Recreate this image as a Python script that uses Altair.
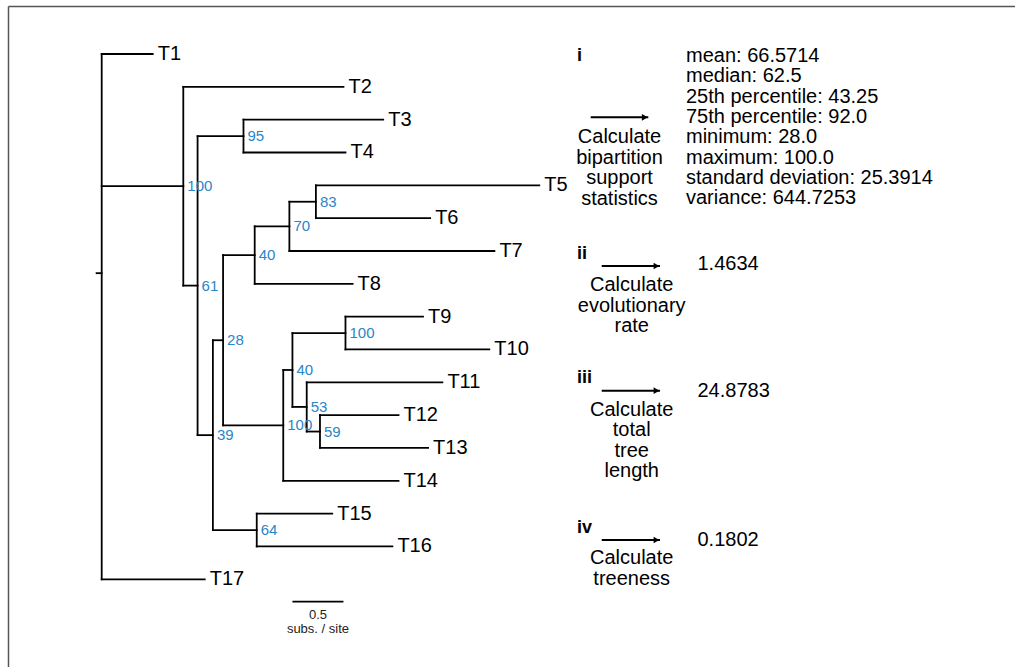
import altair as alt
import pandas as pd

# ---------------- data ----------------
# tree topology: node, its parent, and distance from the root (subs. / site)
node_names = ["root", "T1", "A", "T2", "B", "C", "T3", "T4", "D", "E", "G", "I", "J",
              "T5", "T6", "T7", "T8", "H", "K", "L", "T9", "T10", "M", "T11", "N",
              "T12", "T13", "T14", "F", "T15", "T16", "T17"]
node_parents = ["", "root", "root", "A", "A", "B", "C", "C", "B", "D", "E", "G", "I",
                "J", "J", "I", "G", "E", "H", "K", "L", "L", "K", "M", "M",
                "N", "N", "H", "D", "F", "F", "root"]
node_depths = [0.00, 0.50, 0.80, 2.37, 0.94, 1.39, 2.76, 2.39, 1.09, 1.19, 1.50, 1.84, 2.10,
               4.29, 3.22, 3.85, 2.46, 1.78, 1.87, 2.39, 3.15, 3.80, 2.01, 3.34, 2.14,
               2.91, 3.20, 2.91, 1.52, 2.26, 2.85, 1.01]
tip_order = ["T1", "T2", "T3", "T4", "T5", "T6", "T7", "T8", "T9", "T10",
             "T11", "T12", "T13", "T14", "T15", "T16", "T17"]

# bipartition support values at internal nodes
support_nodes = ["A", "B", "C", "D", "E", "G", "I", "J", "H", "K", "L", "M", "N", "F"]
support_values = [100, 61, 95, 39, 28, 40, 70, 83, 100, 40, 100, 53, 59, 64]

root_stem = 0.05
scale_bar_start = 1.87
scale_bar_length = 0.5
scale_bar_labels = ["0.5", "subs. / site"]

step_numerals = ["i", "ii", "iii", "iv"]
step_lines = [["Calculate", "bipartition", "support", "statistics"],
              ["Calculate", "evolutionary", "rate"],
              ["Calculate", "total", "tree", "length"],
              ["Calculate", "treeness"]]
stat_lines = ["mean: 66.5714", "median: 62.5", "25th percentile: 43.25",
              "75th percentile: 92.0", "minimum: 28.0", "maximum: 100.0",
              "standard deviation: 25.3914", "variance: 644.7253"]
step_results = ["1.4634", "24.8783", "0.1802"]

# ---------------- layout (page pixels) ----------------
W, H = 1015, 667
VIEW_X0, VIEW_Y0 = 8, 6
X0_PX, PX_PER_UNIT = 101.7, 102.0
Y1_PX, PX_PER_TIP = 54.0, 32.83
FONT = "Liberation Sans"
BLUE = "#2a85c9"
FRAME = "#555555"


def px_x(px):
    return (px - X0_PX) / PX_PER_UNIT


def px_y(py):
    return 1 + (py - Y1_PX) / PX_PER_TIP


numeral_pos = [(577, 56), (577, 254), (577, 377.5), (577, 528)]
arrow_pos = [(590.7, 648.3, 117.3), (601.7, 660, 266), (601.7, 660, 390.7), (601.7, 660, 540)]
step_center = [(619.5, 137), (631.7, 285), (631.7, 409.5), (631.7, 558.3)]
STEP_LINE_GAP = 20.6
stats_pos = (686, 56, 20.33)
result_pos = [(697.5, 264), (697.5, 390.7), (697.5, 540)]

# ---------------- tree layout ----------------
depth = dict(zip(node_names, node_depths))
parent = dict(zip(node_names, node_parents))
children = {n: [] for n in node_names}
for n, p in zip(node_names, node_parents):
    if p:
        children[p].append(n)

ypos = {}


def place(n):
    if not children[n]:
        ypos[n] = tip_order.index(n) + 1
    else:
        vals = [place(c) for c in children[n]]
        ypos[n] = sum(vals) / len(vals)
    return ypos[n]


place("root")

segs = []
for n in node_names:
    if parent[n]:
        segs.append({"x": depth[parent[n]], "x2": depth[n], "y": ypos[n], "y2": ypos[n]})
    if children[n]:
        cy = [ypos[c] for c in children[n]]
        segs.append({"x": depth[n], "x2": depth[n], "y": min(cy), "y2": max(cy)})
segs.append({"x": -root_stem, "x2": 0.0, "y": ypos["root"], "y2": ypos["root"]})
seg_df = pd.DataFrame(segs)

tips_df = pd.DataFrame({"x": [depth[t] for t in tip_order],
                        "y": [ypos[t] for t in tip_order],
                        "label": tip_order})
sup_df = pd.DataFrame({"x": [depth[n] for n in support_nodes],
                       "y": [ypos[n] for n in support_nodes],
                       "label": [str(v) for v in support_values]})

bar_y = px_y(601.7)
bar_df = pd.DataFrame({"x": [scale_bar_start], "x2": [scale_bar_start + scale_bar_length],
                       "y": [bar_y]})
bar_txt_df = pd.DataFrame({"x": [scale_bar_start + scale_bar_length / 2] * 2,
                           "y": [bar_y] * 2, "label": scale_bar_labels})

num_df = pd.DataFrame({"x": [px_x(p[0]) for p in numeral_pos],
                       "y": [px_y(p[1]) for p in numeral_pos],
                       "label": step_numerals})
arrow_df = pd.DataFrame({"x": [px_x(a[0]) for a in arrow_pos],
                         "x2": [px_x(a[1]) for a in arrow_pos],
                         "y": [px_y(a[2]) for a in arrow_pos]})
head_df = pd.DataFrame({"x": [px_x(a[1] - 3.5) for a in arrow_pos],
                        "y": [px_y(a[2]) for a in arrow_pos]})
step_rows = []
for (cx, cy), lines in zip(step_center, step_lines):
    for k, line in enumerate(lines):
        step_rows.append({"x": px_x(cx), "y": px_y(cy + k * STEP_LINE_GAP), "label": line})
step_df = pd.DataFrame(step_rows)
res_rows = []
for k, line in enumerate(stat_lines):
    res_rows.append({"x": px_x(stats_pos[0]), "y": px_y(stats_pos[1] + k * stats_pos[2]),
                     "label": line})
for (rx, ry), val in zip(result_pos, step_results):
    res_rows.append({"x": px_x(rx), "y": px_y(ry), "label": val})
res_df = pd.DataFrame(res_rows)

# ---------------- scales ----------------
x_scale = alt.Scale(domain=[px_x(VIEW_X0), px_x(W)], nice=False, zero=False)
y_scale = alt.Scale(domain=[px_y(VIEW_Y0), px_y(H)], nice=False, zero=False, reverse=True)
x_axis = alt.Axis(orient="top", ticks=False, labels=False, grid=False, title=None,
                  domainColor=FRAME, domainWidth=1.5)
y_axis = alt.Axis(orient="left", ticks=False, labels=False, grid=False, title=None,
                  domainColor=FRAME, domainWidth=1.5)


def X(f="x"):
    return alt.X(f"{f}:Q", scale=x_scale, axis=x_axis)


def Y(f="y"):
    return alt.Y(f"{f}:Q", scale=y_scale, axis=y_axis)


tree = alt.Chart(seg_df).mark_rule(color="black", strokeWidth=1.8, strokeCap="square").encode(
    x=X(), x2="x2:Q", y=Y(), y2="y2:Q")
tips = alt.Chart(tips_df).mark_text(align="left", baseline="middle", dx=5, fontSize=20,
                                    font=FONT, color="black").encode(x=X(), y=Y(), text="label:N")
sup = alt.Chart(sup_df).mark_text(align="left", baseline="middle", dx=4, fontSize=15,
                                  font=FONT, color=BLUE).encode(x=X(), y=Y(), text="label:N")
bar = alt.Chart(bar_df).mark_rule(color="black", strokeWidth=1.8).encode(
    x=X(), x2="x2:Q", y=Y())
bar_txt0 = alt.Chart(bar_txt_df.iloc[[0]]).mark_text(
    align="center", baseline="middle", dy=13, fontSize=13, font=FONT, color="#222"
).encode(x=X(), y=Y(), text="label:N")
bar_txt1 = alt.Chart(bar_txt_df.iloc[[1]]).mark_text(
    align="center", baseline="middle", dy=27.5, fontSize=13, font=FONT, color="#222"
).encode(x=X(), y=Y(), text="label:N")

nums = alt.Chart(num_df).mark_text(align="left", baseline="middle", fontSize=18,
                                   fontWeight="bold", font=FONT, color="black").encode(
    x=X(), y=Y(), text="label:N")
arrows = alt.Chart(arrow_df).mark_rule(color="black", strokeWidth=2).encode(
    x=X(), x2="x2:Q", y=Y())
heads = alt.Chart(head_df).mark_point(shape="triangle-right", filled=True, size=45,
                                      color="black", opacity=1).encode(x=X(), y=Y())
steps = alt.Chart(step_df).mark_text(align="center", baseline="middle", fontSize=20,
                                     font=FONT, color="black").encode(
    x=X(), y=Y(), text="label:N")
res = alt.Chart(res_df).mark_text(align="left", baseline="middle", fontSize=20,
                                  font=FONT, color="black").encode(
    x=X(), y=Y(), text="label:N")

chart = alt.layer(tree, tips, sup, bar, bar_txt0, bar_txt1, nums, arrows, heads, steps, res).properties(
    width=W - VIEW_X0, height=H - VIEW_Y0,
    autosize=alt.AutoSizeParams(type="none"),
    padding={"left": VIEW_X0, "top": VIEW_Y0, "right": 0, "bottom": 0},
    background="white",
).configure_view(stroke=None)

chart.save("out.html", embed_options={"renderer": "svg", "actions": False})
